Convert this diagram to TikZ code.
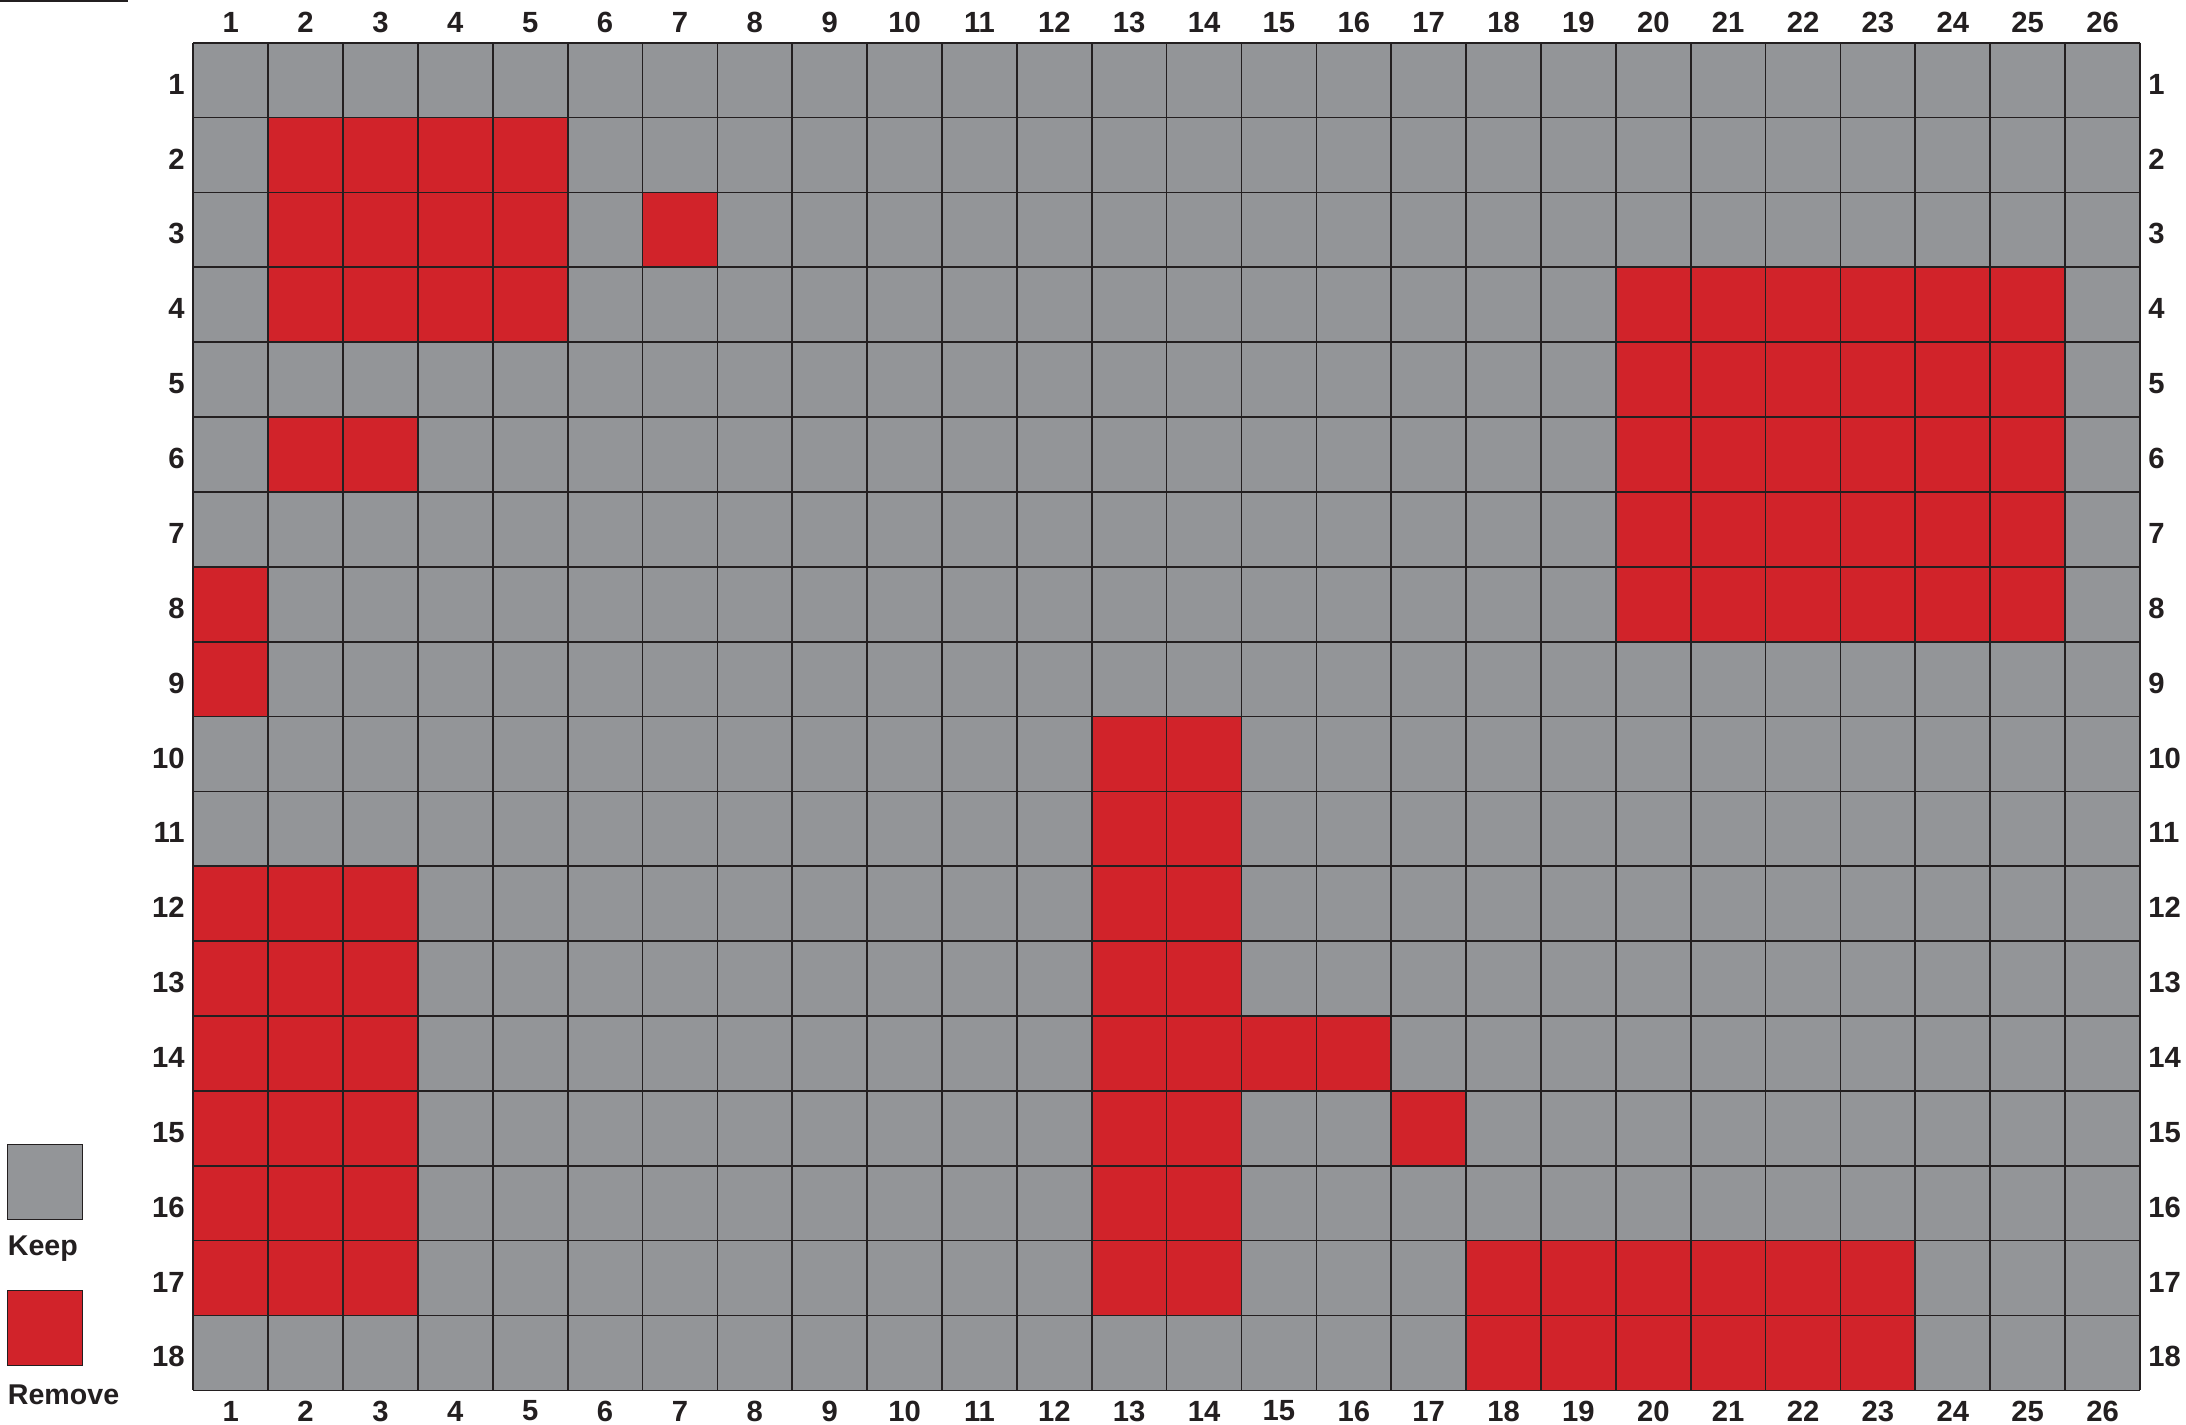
\documentclass[tikz,border=0pt]{standalone}
\usepackage{fontspec}
\setmainfont{Liberation Sans}
\definecolor{keepgray}{HTML}{939598}
\definecolor{remred}{HTML}{D1232A}
\definecolor{gridline}{HTML}{231F20}
\begin{document}
\begin{tikzpicture}[x=0.5pt,y=-0.5pt,
  lab/.style={font=\bfseries\fontsize{14.6}{16}\selectfont, text=gridline, inner sep=0pt},
  leg/.style={font=\bfseries\fontsize{14.3}{16}\selectfont, text=gridline, inner sep=0pt},
  gline/.style={draw=gridline, line width=0.85pt},
  keepcell/.style={fill=keepgray},
  remcell/.style={fill=remred}]
\useasboundingbox (0,0) rectangle (2186,1425);
\def\xo{193.3}
\def\yo{42.7}
\def\cs{74.87}
% stray top-left rule
\draw[gridline, line width=0.75pt] (0,0.75) -- (128,0.75);
% base gray
\fill[keepcell] (\xo,\yo) rectangle ++({26*\cs},{18*\cs});
% red cells
\foreach \c/\r in {2/2,3/2,4/2,5/2,
  2/3,3/3,4/3,5/3,7/3,
  2/4,3/4,4/4,5/4,20/4,21/4,22/4,23/4,24/4,25/4,
  20/5,21/5,22/5,23/5,24/5,25/5,
  2/6,3/6,20/6,21/6,22/6,23/6,24/6,25/6,
  20/7,21/7,22/7,23/7,24/7,25/7,
  1/8,20/8,21/8,22/8,23/8,24/8,25/8,
  1/9,
  13/10,14/10,13/11,14/11,
  1/12,2/12,3/12,13/12,14/12,
  1/13,2/13,3/13,13/13,14/13,
  1/14,2/14,3/14,13/14,14/14,15/14,16/14,
  1/15,2/15,3/15,13/15,14/15,17/15,
  1/16,2/16,3/16,13/16,14/16,
  1/17,2/17,3/17,13/17,14/17,18/17,19/17,20/17,21/17,22/17,23/17,
  18/18,19/18,20/18,21/18,22/18,23/18}
  \fill[remcell] ({\xo+(\c-1)*\cs},{\yo+(\r-1)*\cs}) rectangle ++(\cs,\cs);
% grid lines
\foreach \i in {0,...,26}
  \draw[gline] ({\xo+\i*\cs},\yo) -- ++(0,{18*\cs});
\foreach \j in {0,...,18}
  \draw[gline] (\xo,{\yo+\j*\cs}) -- ++({26*\cs},0);
% column labels
\foreach \i in {1,...,26} {
  \node[lab] (top\i) at ({\xo+(\i-0.5)*\cs},22.5) {\i};
  \node[lab] (bot\i) at ({\xo+(\i-0.5)*\cs},1411) {\i};
}
% row labels
\foreach \j in {1,...,18} {
  \node[lab, anchor=east] (left\j) at (185,{\yo+(\j-0.5)*\cs+4}) {\j};
  \node[lab, anchor=west] (right\j) at (2148,{\yo+(\j-0.5)*\cs+4}) {\j};
}
% legend
\filldraw[keepcell, draw=gridline, line width=0.6pt] (7.3,1144.3) rectangle (82.7,1219.3);
\node[leg, anchor=base west] (keep) at (7.5,1255.5) {Keep};
\filldraw[remcell, draw=gridline, line width=0.6pt] (7.3,1290.7) rectangle (82.7,1365.7);
\node[leg, anchor=base west] (remove) at (7.5,1404) {Remove};
\end{tikzpicture}
\end{document}
